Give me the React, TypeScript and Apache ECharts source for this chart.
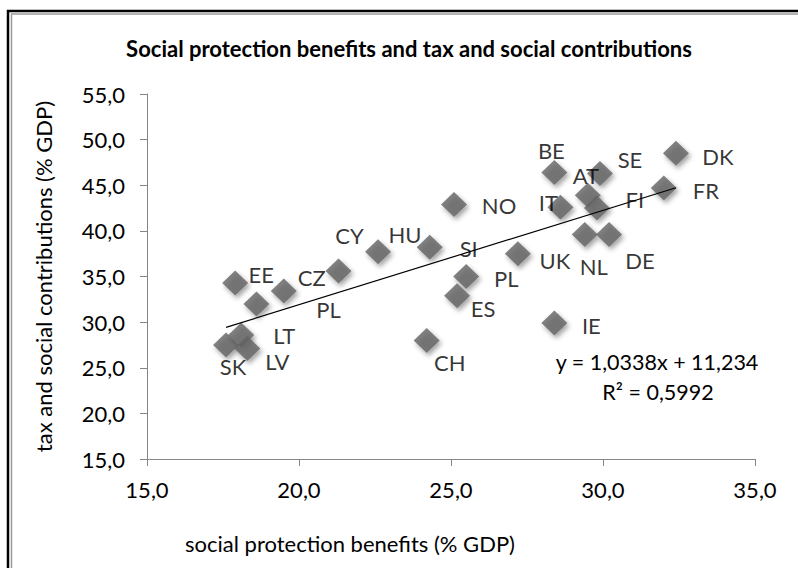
import React, { useEffect, useRef } from "react";
import * as echarts from "echarts";

const titleText = "Social protection benefits and tax and social contributions";
const xAxisName = "social protection benefits (% GDP)";
const yAxisName = "tax and social contributions (% GDP)";

const countries = ["EE", "PL", "CZ", "CY", "HU", "SI", "NO", "PL", "ES", "CH", "UK", "IE", "BE", "IT", "SE", "AT", "FI", "NL", "DE", "DK", "FR", "SK", "LT", "LV"];
const benefits = [17.9, 18.6, 19.5, 21.3, 22.6, 24.3, 25.1, 25.5, 25.2, 24.2, 27.2, 28.4, 28.4, 28.6, 29.9, 29.5, 29.8, 29.4, 30.2, 32.4, 32.0, 17.6, 18.1, 18.3];
const contributions = [34.3, 32.0, 33.4, 35.6, 37.7, 38.2, 42.9, 35.0, 32.9, 28.0, 37.5, 29.9, 46.4, 42.6, 46.3, 43.9, 42.5, 39.6, 39.6, 48.5, 44.7, 27.5, 28.6, 27.1];

// label placement offsets (dx, dy) in pixels, relative to each marker centre
const labelOffsets: [number, number][] = [
  [26, -8], [72, 6], [28, -14], [11, -36], [27, -17], [39, 1], [45, 1], [40, 2], [26, 13], [23, 22],
  [37, 7], [37, 2], [-3, -22], [-12, -5], [30, -14], [-2, -20], [38, -9], [9, 32], [31, 26], [42, 3],
  [42, 3], [7, 22], [43, 1], [30, 13],
];

const xTicks = { min: 15, max: 35, interval: 5 };
const yTicks = { min: 15, max: 55, interval: 5 };

const slope = 1.0338;
const intercept = 11.234;
const equationText = "y = 1,0338x + 11,234";
const r2Text = "R² = 0,5992";

const FONT = 'Lato, "Open Sans", sans-serif';
const fmt = (v: number) => v.toFixed(1).replace(".", ",");

export default function App() {
  const ref = useRef<HTMLDivElement>(null);
  useEffect(() => {
    document.body.style.margin = "0";
    if (!ref.current) return;
    const chart = echarts.init(ref.current, null, { renderer: "svg" });
    const xMin = Math.min(...benefits);
    const xMax = Math.max(...benefits);
    const trend = [
      [xMin, slope * xMin + intercept],
      [xMax, slope * xMax + intercept],
    ];
    const axisCommon = {
      type: "value" as const,
      splitLine: { show: false },
      axisLine: { show: true, onZero: false, lineStyle: { color: "#868686", width: 1 } },
      axisTick: { show: true, inside: false, length: 7, lineStyle: { color: "#868686", width: 1 } },
    };
    chart.setOption({
      animation: false,
      backgroundColor: "#ffffff",
      grid: { left: 147, top: 94, right: 43, bottom: 109 },
      xAxis: {
        ...axisCommon,
        min: xTicks.min,
        max: xTicks.max,
        interval: xTicks.interval,
        axisLabel: { formatter: fmt, color: "#000", fontSize: 22, fontFamily: FONT, margin: 19 },
      },
      yAxis: {
        ...axisCommon,
        min: yTicks.min,
        max: yTicks.max,
        interval: yTicks.interval,
        name: yAxisName,
        nameLocation: "middle",
        nameGap: 93,
        nameTextStyle: { color: "#000", fontSize: 22, fontFamily: FONT },
        axisLabel: { formatter: fmt, color: "#000", fontSize: 22, fontFamily: FONT, margin: 22 },
      },
      series: [
        {
          type: "scatter",
          symbol: "diamond",
          symbolSize: [26, 25],
          z: 2,
          itemStyle: {
            color: "#636363",
            shadowBlur: 5,
            shadowColor: "rgba(0,0,0,0.45)",
            shadowOffsetX: 2,
            shadowOffsetY: 3,
          },
          data: countries.map((c, i) => ({
            name: c,
            value: [benefits[i], contributions[i]],
            label: {
              show: true,
              formatter: c,
              position: "inside",
              offset: labelOffsets[i],
              align: "center",
              verticalAlign: "middle",
              color: "#000",
              fontSize: 22,
              fontFamily: FONT,
            },
          })),
          emphasis: { disabled: true },
        },
        {
          type: "line",
          data: trend,
          symbol: "none",
          z: 5,
          lineStyle: { color: "#000", width: 1.2 },
          silent: true,
        },
      ],
      graphic: [
        {
          type: "rect",
          shape: { x: 8, y: 11, width: 900, height: 700 },
          style: { fill: "none", stroke: "#000", lineWidth: 2.5 },
          silent: true,
        },
        {
          type: "rect",
          shape: { x: 11.5, y: 14, width: 900, height: 700 },
          style: { fill: "none", stroke: "#9a9a9a", lineWidth: 1.5 },
          silent: true,
        },
        {
          type: "text",
          x: 409,
          y: 48,
          style: {
            text: titleText,
            align: "center",
            verticalAlign: "middle",
            fill: "#000",
            fontSize: 22,
            fontWeight: "bold",
            fontFamily: FONT,
          },
        },
        {
          type: "text",
          x: 350,
          y: 543,
          style: {
            text: xAxisName,
            align: "center",
            verticalAlign: "middle",
            fill: "#000",
            fontSize: 22,
            fontFamily: FONT,
          },
        },
        {
          type: "text",
          x: 657,
          y: 362,
          style: { text: equationText, align: "center", verticalAlign: "middle", fill: "#000", fontSize: 21.5, fontFamily: FONT },
        },
        {
          type: "text",
          x: 658,
          y: 392,
          style: { text: r2Text, align: "center", verticalAlign: "middle", fill: "#000", fontSize: 21.5, fontFamily: FONT },
        },
      ],
    });
    return () => chart.dispose();
  }, []);
  return <div ref={ref} style={{ width: 798, height: 568 }} />;
}
